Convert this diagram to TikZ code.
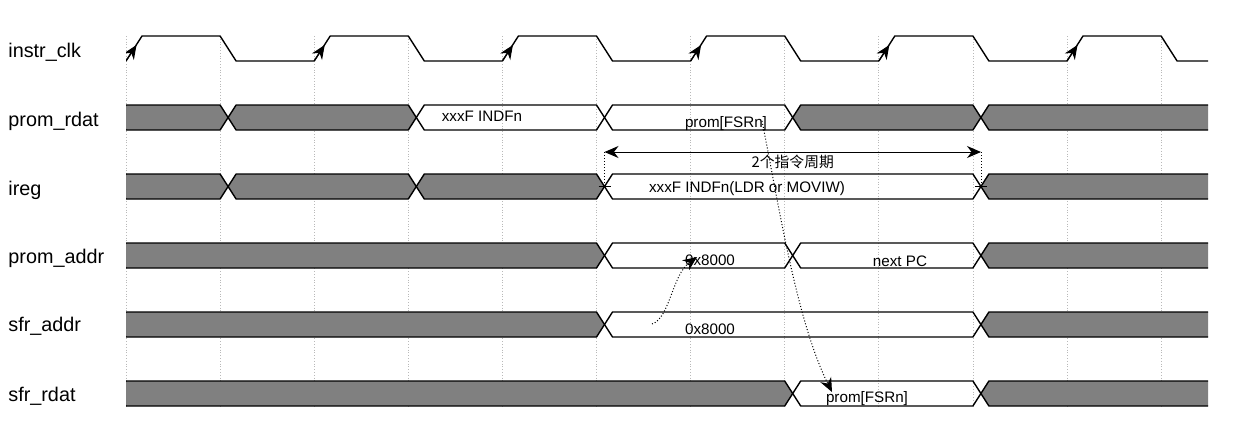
\documentclass[tikz,border=0pt]{standalone}
\usepackage{fontspec}
\setmainfont{Liberation Sans}
\newfontfamily\cjk{Noto Sans CJK SC}
\usetikzlibrary{arrows.meta}

% 总线段: #1 顶部y, #2 左跳变网格, #3 右跳变网格, #4 样式
\newcommand{\busseg}[4]{%
  \draw[#4] (#2+8,#1+12.5) -- (#2+16,#1) -- (#3,#1) -- (#3+8,#1+12.5)
            -- (#3,#1+25) -- (#2+16,#1+25) -- cycle;}

\begin{document}
\begin{tikzpicture}[x=0.5pt, y=-0.5pt]
    % 通用样式
    \tikzstyle{sig_name} = [anchor=west, inner sep=0pt, font=\fontsize{9.9}{12}\selectfont]
    \tikzstyle{bus_text} = [inner sep=0pt, font=\fontsize{7.6}{9}\selectfont]
    \tikzstyle{bus_gray} = [draw=black, fill=gray, line width=0.7pt, line join=round]
    \tikzstyle{bus_white} = [draw=black, line width=0.7pt, line join=round]
    \tikzstyle{grid_line} = [densely dotted, gray!55, line width=0.4pt]
    \tikzstyle{wave} = [line width=0.7pt, line join=round]
    \tikzstyle{arrow_tip} = [-{Stealth[length=7pt,width=6pt]}, line width=0.5pt]
    \tikzstyle{arrow_dim} = [{Stealth[length=7pt,width=6pt]}-{Stealth[length=7pt,width=6pt]}, line width=0.5pt]
    \tikzstyle{arrow_dep} = [arrow_tip, densely dotted]

    \useasboundingbox (0,0) rectangle (1253,446);

    % ================= 网格 =================
    \foreach \k in {0,...,11} {
        \draw[grid_line] ({126+94.1*\k},36) -- ({126+94.1*\k},407);
    }

    % ================= 波形部分 =================
    \begin{scope}
        \clip (126,0) rectangle (1208,446);

        % 时钟
        \foreach \j in {0,...,5} {
            \pgfmathsetmacro{\tr}{126+188.2*\j}
            \draw[wave] (\tr,61) -- (\tr+16,36) -- (\tr+94.1,36) -- (\tr+110.1,61) -- (\tr+188.2,61);
            \draw[arrow_tip] (\tr,61) -- (\tr+10.5,45);
        }

        % prom_rdat
        \foreach \a/\b/\s in {110/220.1/bus_gray, 220.1/408.3/bus_gray, 408.3/596.5/bus_white,
                              596.5/784.7/bus_white, 784.7/972.9/bus_gray, 972.9/1230/bus_gray} {
            \busseg{105}{\a}{\b}{\s}
        }
        % ireg
        \foreach \a/\b/\s in {110/220.1/bus_gray, 220.1/408.3/bus_gray, 408.3/596.5/bus_gray,
                              596.5/972.9/bus_white, 972.9/1230/bus_gray} {
            \busseg{174}{\a}{\b}{\s}
        }
        % prom_addr
        \foreach \a/\b/\s in {110/596.5/bus_gray, 596.5/784.7/bus_white,
                              784.7/972.9/bus_white, 972.9/1230/bus_gray} {
            \busseg{243}{\a}{\b}{\s}
        }
        % sfr_addr
        \foreach \a/\b/\s in {110/596.5/bus_gray, 596.5/972.9/bus_white, 972.9/1230/bus_gray} {
            \busseg{312}{\a}{\b}{\s}
        }
        % sfr_rdat
        \foreach \a/\b/\s in {110/784.7/bus_gray, 784.7/972.9/bus_white, 972.9/1230/bus_gray} {
            \busseg{381}{\a}{\b}{\s}
        }
    \end{scope}

    % ================= 信号名 =================
    \node[sig_name] (n_clk) at (8,52) {instr\_clk};
    \node[sig_name] (n_rdat) at (8,121) {prom\_rdat};
    \node[sig_name] (n_ireg) at (8,190) {ireg};
    \node[sig_name] (n_paddr) at (8,258) {prom\_addr};
    \node[sig_name] (n_saddr) at (8,326) {sfr\_addr};
    \node[sig_name] (n_srdat) at (8,396) {sfr\_rdat};

    % ================= 总线数值 =================
    \node[bus_text] (rdat_ind) at (482,116) {xxxF INDFn};
    \node[bus_text] (rdat_fsr) at (726,124) {prom[FSRn]};
    \node[bus_text] (ireg_ind) at (747,189) {xxxF INDFn(LDR or MOVIW)};
    \node[bus_text] (paddr_val) at (710,260) {0x8000};
    \node[bus_text] (paddr_pc) at (900,261) {next PC};
    \node[bus_text] (saddr_val) at (710,329) {0x8000};
    \node[bus_text] (srdat_fsr) at (867,399) {prom[FSRn]};

    % ================= 2个指令周期 =================
    \coordinate (cyc_l) at (604.5,152);
    \coordinate (cyc_r) at (981,152);
    \coordinate (ireg_x1) at (604.5,186.5);
    \coordinate (ireg_x2) at (981,186.5);
    \draw[arrow_dim] (cyc_l) -- node[below=1.5pt, inner sep=0pt, font=\cjk\fontsize{7.4}{9}\selectfont] (cyc_text) {2个指令周期} (cyc_r);
    \draw[densely dotted, line width=0.5pt] (cyc_l) -- (ireg_x1);
    \draw[densely dotted, line width=0.5pt] (cyc_r) -- (ireg_x2);
    \draw[line width=0.5pt] ([xshift=-3pt]ireg_x1) -- ([xshift=3pt]ireg_x1);
    \draw[line width=0.5pt] ([xshift=-3pt]ireg_x2) -- ([xshift=3pt]ireg_x2);

    % ================= 依赖箭头 =================
    \coordinate (dep1_s) at (762,121);
    \coordinate (dep1_e) at (832,392);
    \draw[arrow_dep] (dep1_s) .. controls (778,200) and (796,320) .. (dep1_e);

    \coordinate (dep2_s) at (652,324);
    \coordinate (dep2_e) at (697,257);
    \draw[arrow_dep] (dep2_s) .. controls (670,318) and (672,275) .. (dep2_e);

\end{tikzpicture}
\end{document}
